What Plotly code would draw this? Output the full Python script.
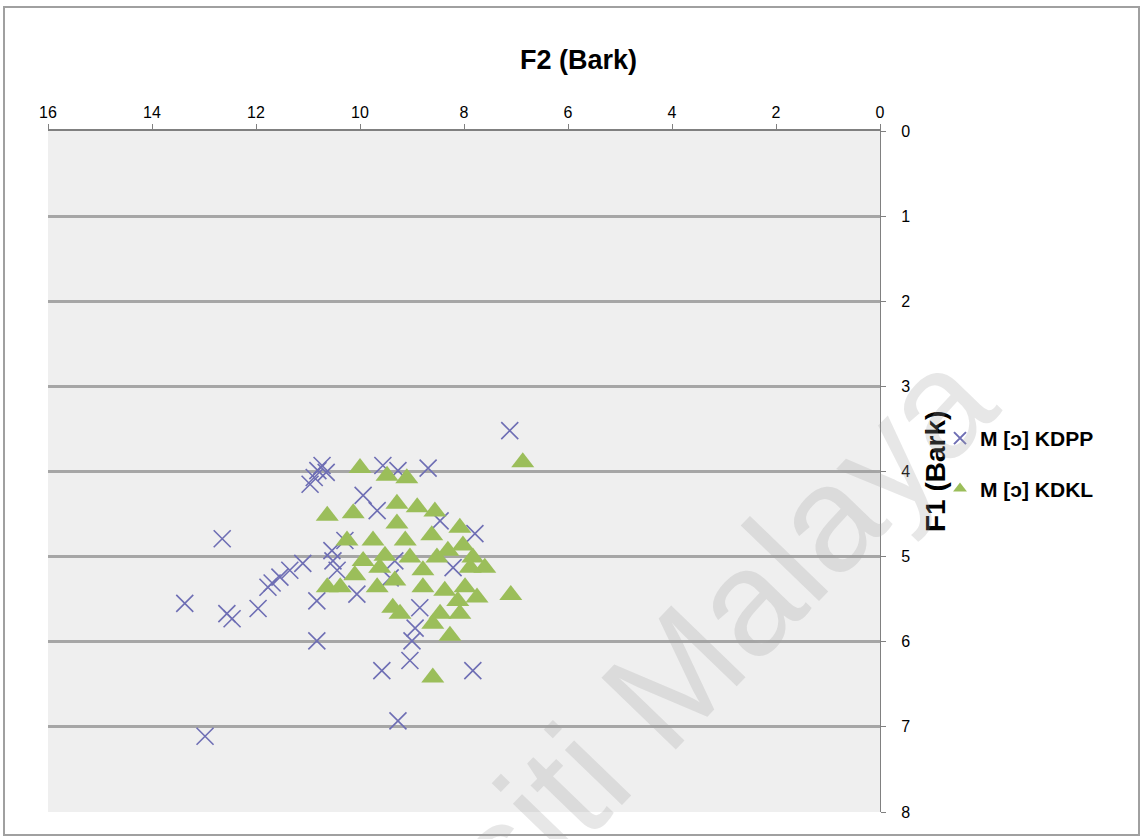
import plotly.graph_objects as go

# ---- data (F2 Bark = x, F1 Bark = y) ----
kdpp_f2 = [7.12, 10.73, 10.81, 10.88, 10.96, 10.65, 9.56, 9.27, 8.69, 9.94, 9.67,
           12.65, 11.10, 11.35, 11.54, 11.69, 11.77, 10.54, 10.52, 10.44, 13.37,
           12.56, 12.46, 11.96, 10.83, 10.06, 9.42, 8.85, 8.94, 9.00, 9.04, 9.58,
           7.83, 8.21, 7.79, 10.83, 9.27, 12.98, 10.29, 8.46, 9.33]
kdpp_f1 = [3.52, 3.93, 3.99, 4.07, 4.15, 4.01, 3.93, 3.99, 3.96, 4.28, 4.46,
           4.79, 5.08, 5.16, 5.24, 5.31, 5.36, 4.93, 5.05, 5.16, 5.55,
           5.67, 5.73, 5.61, 5.52, 5.44, 5.25, 5.60, 5.84, 5.99, 6.22, 6.34,
           6.34, 5.13, 4.73, 5.99, 6.93, 7.11, 4.81, 4.58, 5.05]

kdkl_f2 = [6.87, 10.00, 9.48, 9.10, 10.63, 10.13, 9.29, 8.90, 8.56, 10.25, 9.75,
           9.29, 9.13, 8.62, 8.08, 8.02, 7.83, 7.60, 9.94, 9.62, 9.04, 8.79,
           8.52, 7.88, 10.63, 10.38, 9.67, 9.37, 9.23, 8.79, 8.37, 7.98, 7.75,
           7.10, 8.60, 8.27, 8.46, 8.08, 8.60, 9.52, 10.10, 9.33, 8.31, 8.12]
kdkl_f1 = [3.89, 3.96, 4.05, 4.08, 4.52, 4.49, 4.38, 4.42, 4.47, 4.81, 4.81,
           4.61, 4.81, 4.75, 4.66, 4.87, 5.01, 5.13, 5.05, 5.13, 5.01, 5.16,
           5.01, 5.13, 5.36, 5.36, 5.36, 5.60, 5.67, 5.36, 5.40, 5.36, 5.48,
           5.45, 5.79, 5.93, 5.67, 5.67, 6.42, 4.99, 5.22, 5.28, 4.93, 5.52]

series_names = ["M [ɔ] KDPP", "M [ɔ] KDKL"]
x_ticks = [16, 14, 12, 10, 8, 6, 4, 2, 0]
y_ticks = [0, 1, 2, 3, 4, 5, 6, 7, 8]

W, H = 1146, 839
L, R, T, B = 48, 266, 131, 27
pw, ph = W - L - R, H - T - B

def px(xpix):
    return (xpix - L) / pw

def py(ypix):
    return 1 - (ypix - T) / ph

tick_font = dict(family="Liberation Sans Narrow, Liberation Sans, Arial", size=16, color="#000000")
bold_font = "Liberation Sans, Arial"

fig = go.Figure()
fig.add_trace(go.Scatter(
    x=kdpp_f2, y=kdpp_f1, mode="markers", name=series_names[0], legendgroup="a",
    marker=dict(symbol="x-thin-open", size=17,
                line=dict(color="rgb(110,110,180)", width=1.6),
                color="rgb(110,110,180)")))
fig.add_trace(go.Scatter(
    x=kdkl_f2, y=kdkl_f1, mode="markers", name=series_names[1], legendgroup="b",
    marker=dict(symbol="triangle-up", size=20, color="rgb(155,190,90)",
                line=dict(width=0))))

fig.update_layout(
    width=W, height=H,
    margin=dict(l=L, r=R, t=T, b=B),
    paper_bgcolor="white",
    plot_bgcolor="#efefef",
    showlegend=True,
    legend=dict(x=px(940), y=py(418), xanchor="left", yanchor="top",
                font=dict(family=bold_font, size=21, color="#000000", weight="bold"),
                tracegroupgap=20, bgcolor="rgba(0,0,0,0)", itemsizing="constant"),
    xaxis=dict(range=[16, 0], side="top", tickvals=x_ticks, ticktext=[str(v) for v in x_ticks],
               showgrid=False, zeroline=False, showline=True, linecolor="#808080", linewidth=1.5,
               ticks="outside", ticklen=5, tickcolor="#808080", tickfont=tick_font,
               mirror=False),
    yaxis=dict(range=[8, 0], side="right", tickvals=y_ticks, ticktext=[str(v) for v in y_ticks],
               showgrid=True, gridcolor="#a6a6a6", gridwidth=3, zeroline=False,
               showline=True, linecolor="#808080", linewidth=1.2,
               ticks="outside", ticklen=5, tickcolor="#808080", tickfont=tick_font,
               ticklabelstandoff=12),
    annotations=[
        dict(text="F2 (Bark)", x=px(578), y=py(60), xref="paper", yref="paper",
             xanchor="center", yanchor="middle",
             showarrow=False, font=dict(family=bold_font, size=27, color="#000000", weight="bold")),
        dict(text="F1 (Bark)", x=px(935), y=py(472), xref="paper", yref="paper",
             xanchor="center", yanchor="middle",
             showarrow=False, textangle=-90,
             font=dict(family=bold_font, size=28, color="#000000", weight="bold")),
        dict(text="Universiti Malaya", x=px(569), y=py(785), xref="paper", yref="paper",
             xanchor="center", yanchor="middle",
             showarrow=False, textangle=-46,
             font=dict(family="Liberation Sans, Arial", size=150, color="rgba(160,160,160,0.25)")),
    ],
    shapes=[
        dict(type="rect", xref="paper", yref="paper",
             x0=px(4), x1=px(1139), y0=py(835), y1=py(7),
             line=dict(color="#a0a0a0", width=2), fillcolor="rgba(0,0,0,0)", layer="below"),
    ],
)

fig.write_html("out.html")
